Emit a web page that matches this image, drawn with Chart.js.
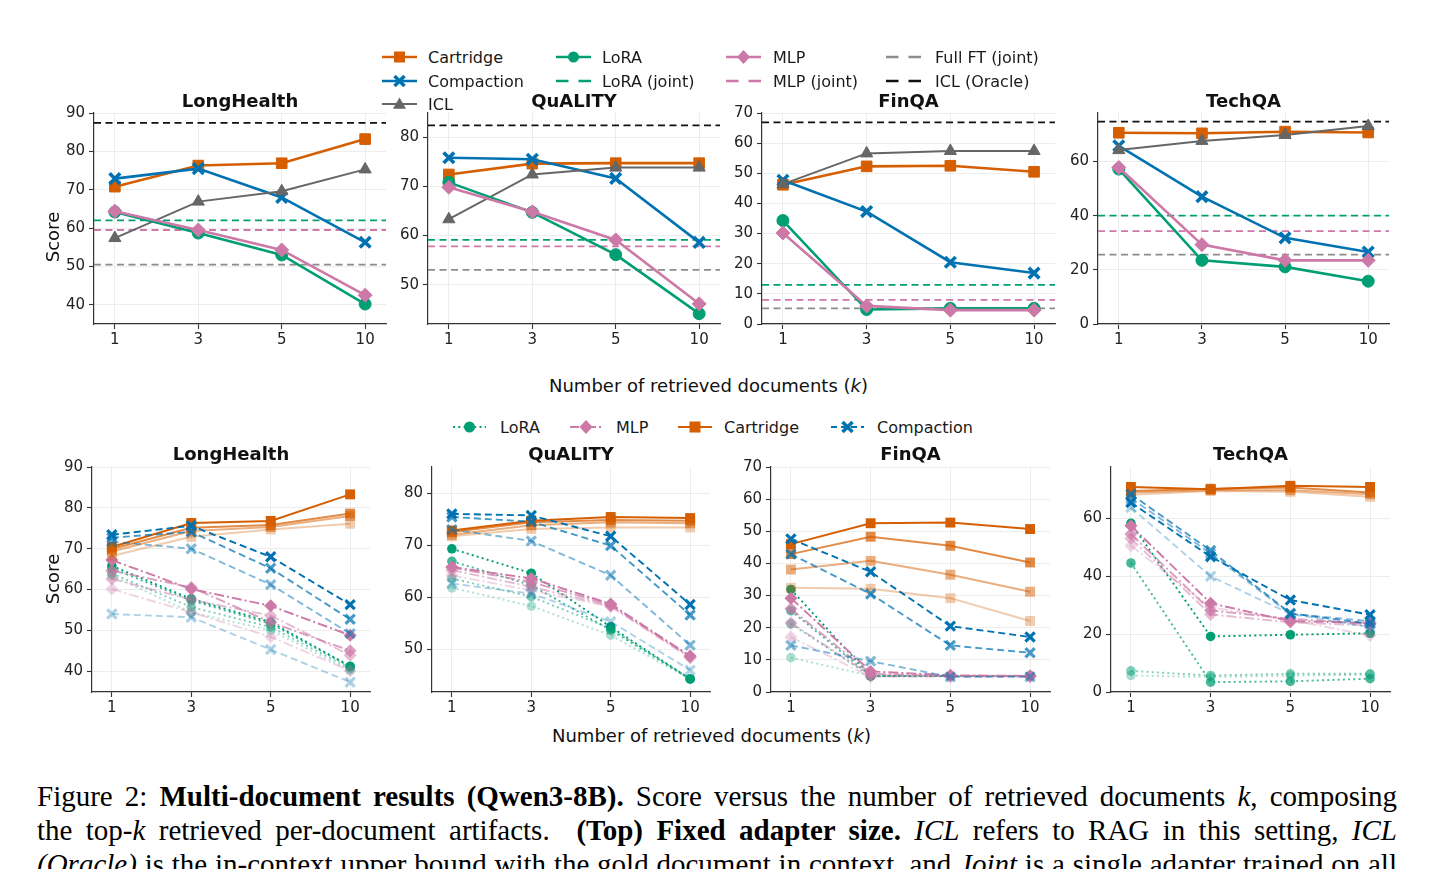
<!DOCTYPE html>
<html><head><meta charset="utf-8">
<script src="https://cdn.jsdelivr.net/npm/chart.js@4.4.1/dist/chart.umd.min.js"></script>
<style>
html,body{margin:0;padding:0;background:#fff;width:1434px;height:869px;overflow:hidden;}
body{position:relative;font-family:'DejaVu Sans',sans-serif;color:#1a1a1a;}
canvas{position:absolute;}
.abs{position:absolute;}
.title{position:absolute;font-weight:bold;font-size:18px;transform:translate(-50%,-50%);white-space:nowrap;color:#111;}
.xlab{position:absolute;font-size:18px;white-space:nowrap;transform:translateY(-50%);color:#111;}
.ylab{position:absolute;font-size:18px;transform:translate(-50%,-50%) rotate(-90deg);white-space:nowrap;color:#111;}
.leg{position:absolute;font-size:16px;white-space:nowrap;transform:translateY(-50%);color:#1a1a1a;}
.cap{position:absolute;left:37px;width:1360px;font-family:'Liberation Serif','Times New Roman',serif;font-size:29px;line-height:34px;height:34px;overflow:hidden;text-align:justify;text-align-last:justify;color:#000;}
</style>
</head><body>
<script>
// ---------------- DATA ----------------
const kLabels = ['1', '3', '5', '10'];
const kPos = [0, 1, 2, 3];

// Top row (fixed adapter size): per-dataset series
const lhCartridge  = [70.8, 76.3, 76.9, 83.2];
const lhCompaction = [72.9, 75.5, 68.0, 56.3];
const lhICL        = [57.4, 66.9, 69.6, 75.3];
const lhLoRA       = [64.2, 58.7, 53.0, 40.2];
const lhMLP        = [64.4, 59.5, 54.3, 42.5];
const lhRef        = [62.0, 59.5, 50.5, 87.4]; // LoRA (joint), MLP (joint), Full FT (joint), ICL (Oracle)

const qaCartridge  = [72.4, 74.6, 74.7, 74.7];
const qaCompaction = [75.8, 75.5, 71.6, 58.6];
const qaICL        = [63.3, 72.4, 73.8, 73.8];
const qaLoRA       = [70.8, 64.7, 56.1, 44.1];
const qaMLP        = [69.8, 64.8, 59.1, 46.1];
const qaRef        = [59.1, 57.8, 53.0, 82.4];

const finCartridge  = [46.2, 52.3, 52.5, 50.5];
const finCompaction = [47.7, 37.3, 20.5, 16.9];
const finICL        = [46.4, 56.6, 57.4, 57.4];
const finLoRA       = [34.3, 4.8, 5.2, 5.2];
const finMLP        = [30.2, 6.0, 4.6, 4.6];
const finRef        = [13.0, 8.0, 5.2, 66.9];

const tqCartridge  = [70.6, 70.4, 71.0, 70.7];
const tqCompaction = [65.8, 47.0, 31.8, 26.6];
const tqICL        = [64.2, 67.6, 69.8, 73.1];
const tqLoRA       = [57.2, 23.5, 21.1, 15.8];
const tqMLP        = [57.8, 29.3, 23.5, 23.5];
const tqRef        = [40.0, 34.3, 25.6, 74.7];

// Bottom row: several adapter sizes per method (darkest first)
const bLhLoRA = [[65.8,57.7,52.0,41.2],[65.2,57.3,51.6,41.1],[63.9,55.7,50.8,40.7],[63.4,54.4,50.0,40.2]];
const bLhMLP = [[67.2,60.1,56.0,48.8],[64.6,60.5,52.0,45.0],[62.6,57.5,53.6,43.9],[60.1,54.4,48.4,40.1]];
const bLhCartridge = [[70.4,76.3,76.8,83.3],[69.9,75.1,75.8,78.6],[69.3,74.3,75.3,78.0],[68.2,72.9,74.7,76.1]];
const bLhCompaction = [[73.4,75.6,68.0,56.3],[72.7,74.1,65.2,52.7],[71.7,70.0,61.2,49.2],[54.0,53.2,45.3,37.3]];

const bQaLoRA = [[69.3,64.6,54.3,44.3],[66.9,62.3,53.7,44.3],[63.6,60.1,54.0,44.3],[61.8,58.3,52.7,44.3]];
const bQaMLP = [[65.8,63.6,58.7,48.7],[65.7,62.9,58.5,48.6],[65.2,62.0,58.3,48.5],[64.2,61.3,58.2,48.3]];
const bQaCartridge = [[72.8,74.7,75.4,75.2],[72.5,74.4,74.8,74.7],[72.0,73.8,74.4,74.2],[71.7,73.1,73.4,73.4]];
const bQaCompaction = [[76.0,75.7,71.7,58.6],[75.4,74.5,69.9,56.6],[73.0,70.8,64.2,50.8],[62.6,60.7,55.3,46.0]];

const bFinLoRA = [[31.9,5.0,5.0,5.0],[25.3,5.0,5.0,5.0],[21.2,5.0,5.0,5.0],[10.7,5.0,5.0,5.0]];
const bFinMLP = [[29.2,6.4,5.2,5.0],[25.9,5.7,5.0,5.0],[21.5,5.2,5.0,5.0],[17.1,4.7,4.7,4.7]];
const bFinCartridge = [[46.0,52.5,52.7,50.7],[42.9,48.3,45.5,40.3],[38.1,40.8,36.5,31.2],[32.4,32.1,29.2,22.1]];
const bFinCompaction = [[47.6,37.4,20.5,17.1],[42.9,30.5,14.5,12.2],[14.5,9.6,4.7,4.7]];

const bTqLoRA = [[58.3,19.2,19.8,20.3],[44.6,3.4,3.7,4.6],[7.3,5.7,6.3,6.3],[5.7,5.2,5.6,6.0]];
const bTqMLP = [[57.5,30.7,24.5,23.9],[54.6,28.2,25.3,23.6],[53.1,26.8,24.1,23.0],[50.6,29.3,24.9,19.5]];
const bTqCartridge = [[70.9,70.1,71.3,70.9],[69.5,70.3,70.7,69.0],[69.0,69.8,69.8,68.4],[68.2,69.5,69.2,67.5]];
const bTqCompaction = [[65.5,46.8,31.8,26.7],[68.4,48.9,27.2,23.6],[67.0,47.9,27.0,24.5],[63.8,40.0,27.0,22.4]];

// Axis ticks
const ticksLH = [40, 50, 60, 70, 80, 90];
const ticksQA = [50, 60, 70, 80];
const ticksFin = [0, 10, 20, 30, 40, 50, 60, 70];
const ticksTQ = [0, 20, 40, 60];

// ---------------- STYLE ----------------
const C = {cart:'#D55E00', comp:'#0072B2', icl:'#666666', lora:'#009E73', mlp:'#CC79A7', ft:'#8c8c8c', oracle:'#111111'};
const shadeAlpha = [1, 0.72, 0.5, 0.32];
function rgba(hex, a){const n=parseInt(hex.slice(1),16);return `rgba(${(n>>16)&255},${(n>>8)&255},${n&255},${a})`;}
function pts(arr){return arr.map((v,i)=>({x:kPos[i], y:v}));}
function hline(v){return [{x:-0.25,y:v},{x:3.25,y:v}];}

Chart.defaults.font.family = "'DejaVu Sans', sans-serif";

function makeChart(rect, yMin, yMax, yTicks, datasets){
  const padT=12, padR=14, yW=50, xH=30;
  const c=document.createElement('canvas');
  const w=rect.r-rect.l+yW+padR, h=rect.b-rect.t+padT+xH;
  c.width=w; c.height=h;
  c.style.left=(rect.l-yW)+'px'; c.style.top=(rect.t-padT)+'px';
  c.style.width=w+'px'; c.style.height=h+'px';
  document.body.appendChild(c);
  const grid={color:'#ebebeb', lineWidth:0.9, tickColor:'#333', tickLength:5, tickWidth:1.1};
  const border={color:'#333', width:1.2};
  new Chart(c,{type:'line', data:{datasets}, options:{
    responsive:false, animation:false, events:[],
    layout:{padding:{top:padT,right:padR,left:0,bottom:0}},
    plugins:{legend:{display:false}, tooltip:{enabled:false}, title:{display:false}},
    scales:{
      x:{type:'linear', min:-0.25, max:3.25,
         afterBuildTicks:s=>{s.ticks=kPos.map(v=>({value:v}));},
         afterFit:s=>{s.height=xH;},
         ticks:{callback:v=>kLabels[v], font:{size:15}, color:'#222', padding:2, maxRotation:0, autoSkip:false},
         grid, border},
      y:{type:'linear', min:yMin, max:yMax,
         afterBuildTicks:s=>{s.ticks=yTicks.map(v=>({value:v}));},
         afterFit:s=>{s.width=yW;},
         ticks:{font:{size:15}, color:'#222', padding:4},
         grid, border}
    }
  }});
}

function series(values, color, lw, dash, style, r, pbw, order){
  return {data:pts(values), borderColor:color, backgroundColor:color, borderWidth:lw, borderDash:dash,
    pointStyle:style, pointRadius:r, pointBackgroundColor:color, pointBorderColor:color,
    pointBorderWidth:pbw, order, clip:false, tension:0, fill:false};
}

function topDatasets(cart, comp, icl, lora, mlp, ref){
  const refCols=[C.lora, C.mlp, C.ft, C.oracle];
  const ds=ref.map((v,i)=>({data:hline(v), borderColor:refCols[i], borderWidth:1.8, borderDash:[7,4.5], pointRadius:0, order:100+i}));
  ds.push(series(cart, C.cart, 2.6, [], 'rect', 7.5, 1, 5));
  ds.push(series(comp, C.comp, 2.6, [], 'crossRot', 7.5, 3.6, 4));
  ds.push(series(icl, C.icl, 2.0, [], 'triangle', 7, 1, 3));
  ds.push(series(lora, C.lora, 2.6, [], 'circle', 6, 1, 2));
  ds.push(series(mlp, C.mlp, 2.6, [], 'rectRot', 7, 1, 1));
  return ds;
}

function bottomDatasets(lora, mlp, cart, comp){
  const ds=[];
  lora.forEach((v,i)=>ds.push(series(v, rgba(C.lora,shadeAlpha[i]), 1.9, [2,3.2], 'circle', 4.8, 0, 40+i)));
  mlp.forEach((v,i)=>ds.push(series(v, rgba(C.mlp,shadeAlpha[i]), 1.9, [10,3,2,3], 'rectRot', 6.5, 0, 30+i)));
  cart.forEach((v,i)=>ds.push(series(v, rgba(C.cart,shadeAlpha[i]), 2.0, [], 'rect', 7, 0, 20+i)));
  comp.forEach((v,i)=>ds.push(series(v, rgba(C.comp,shadeAlpha[i]), 1.9, [7,4], 'crossRot', 6.5, 3.2, 10+i)));
  return ds;
}

// ---------------- CHARTS ----------------
makeChart({l:94,r:386,t:112,b:324}, 35, 90, ticksLH, topDatasets(lhCartridge, lhCompaction, lhICL, lhLoRA, lhMLP, lhRef));
makeChart({l:428,r:720,t:112,b:324}, 42, 84.9, ticksQA, topDatasets(qaCartridge, qaCompaction, qaICL, qaLoRA, qaMLP, qaRef));
makeChart({l:762,r:1055,t:112,b:324}, 0, 70, ticksFin, topDatasets(finCartridge, finCompaction, finICL, finLoRA, finMLP, finRef));
makeChart({l:1098,r:1389,t:112,b:324}, 0, 77.9, ticksTQ, topDatasets(tqCartridge, tqCompaction, tqICL, tqLoRA, tqMLP, tqRef));

makeChart({l:92,r:370,t:466,b:692}, 34.9, 90, ticksLH, bottomDatasets(bLhLoRA, bLhMLP, bLhCartridge, bLhCompaction));
makeChart({l:432,r:710,t:466,b:692}, 41.8, 85, ticksQA, bottomDatasets(bQaLoRA, bQaMLP, bQaCartridge, bQaCompaction));
makeChart({l:771,r:1050,t:466,b:692}, 0, 70, ticksFin, bottomDatasets(bFinLoRA, bFinMLP, bFinCartridge, bFinCompaction));
makeChart({l:1111,r:1390,t:466,b:692}, 0, 77.8, ticksTQ, bottomDatasets(bTqLoRA, bTqMLP, bTqCartridge, bTqCompaction));

// ---------------- TEXT & LEGENDS ----------------
function addDiv(cls, html, x, y){const d=document.createElement('div');d.className=cls;d.innerHTML=html;d.style.left=x+'px';d.style.top=y+'px';document.body.appendChild(d);return d;}
const datasetNames=['LongHealth','QuALITY','FinQA','TechQA'];
[240,574,908.5,1243.5].forEach((x,i)=>addDiv('title', datasetNames[i], x, 100));
[231,571,910.5,1250.5].forEach((x,i)=>addDiv('title', datasetNames[i], x, 453));
addDiv('ylab','Score',52,237);
addDiv('ylab','Score',52,579);
addDiv('xlab','Number of retrieved documents (<i>k</i>)',549,385);
addDiv('xlab','Number of retrieved documents (<i>k</i>)',552,735);

function markerSVG(m, cx, color){
  if(m==='square') return `<rect x="${cx-5.5}" y="4.5" width="11" height="11" fill="${color}"/>`;
  if(m==='circle') return `<circle cx="${cx}" cy="10" r="5.5" fill="${color}"/>`;
  if(m==='tri') return `<polygon points="${cx},3.5 ${cx-6.5},14.8 ${cx+6.5},14.8" fill="${color}"/>`;
  if(m==='diamond') return `<polygon points="${cx},3 ${cx+6.5},10 ${cx},17 ${cx-6.5},10" fill="${color}"/>`;
  if(m==='x') return `<line x1="${cx-5}" y1="5" x2="${cx+5}" y2="15" stroke="${color}" stroke-width="3.6"/><line x1="${cx-5}" y1="15" x2="${cx+5}" y2="5" stroke="${color}" stroke-width="3.6"/>`;
  return '';
}
function legendItem(x1,x2,tx,yc,color,dash,m,label,lw){
  const w=x2-x1;
  const svg=`<svg class="abs" style="left:${x1}px;top:${yc-10}px" width="${w}" height="20"><line x1="0" y1="10" x2="${w}" y2="10" stroke="${color}" stroke-width="${lw}" ${dash?`stroke-dasharray="${dash}"`:''}/>${markerSVG(m,w/2,color)}</svg>`;
  document.body.insertAdjacentHTML('beforeend', svg);
  addDiv('leg', label, tx, yc);
}
// top legend
legendItem(382,417,428,57,C.cart,'', 'square','Cartridge',2.6);
legendItem(382,417,428,80.5,C.comp,'', 'x','Compaction',2.6);
legendItem(382,417,428,103.5,C.icl,'', 'tri','ICL',2.2);
legendItem(556,591,602,57,C.lora,'', 'circle','LoRA',2.6);
legendItem(556,591,602,80.5,C.lora,'12.5 10', '','LoRA (joint)',2.4);
legendItem(726,761,773,57,C.mlp,'', 'diamond','MLP',2.6);
legendItem(726,761,773,80.5,C.mlp,'12.5 10', '','MLP (joint)',2.4);
legendItem(886,921,935,57,C.ft,'12.5 10', '','Full FT (joint)',2.4);
legendItem(886,921,935,80.5,C.oracle,'12.5 10', '','ICL (Oracle)',2.4);
// bottom legend
legendItem(453,486,500,427,C.lora,'2 3.3', 'circle','LoRA',2.2);
legendItem(570,602,616,427,C.mlp,'9 3 2 3', 'diamond','MLP',2.2);
legendItem(678,712,724,427,C.cart,'', 'square','Cartridge',2.2);
legendItem(831,864,877,427,C.comp,'6 4', 'x','Compaction',2.2);

// caption
addDiv('cap','Figure 2: <b>Multi-document results (Qwen3-8B).</b> Score versus the number of retrieved documents <i>k</i>, composing',0,779).style.left='37px';
addDiv('cap','the top-<i>k</i> retrieved per-document artifacts. &nbsp;<b>(Top) Fixed adapter size.</b> <i>ICL</i> refers to RAG in this setting, <i>ICL</i>',0,813).style.left='37px';
addDiv('cap','<i>(Oracle)</i> is the in-context upper bound with the gold document in context, and <i>Joint</i> is a single adapter trained on all',0,847).style.left='37px';
</script>
</body></html>
